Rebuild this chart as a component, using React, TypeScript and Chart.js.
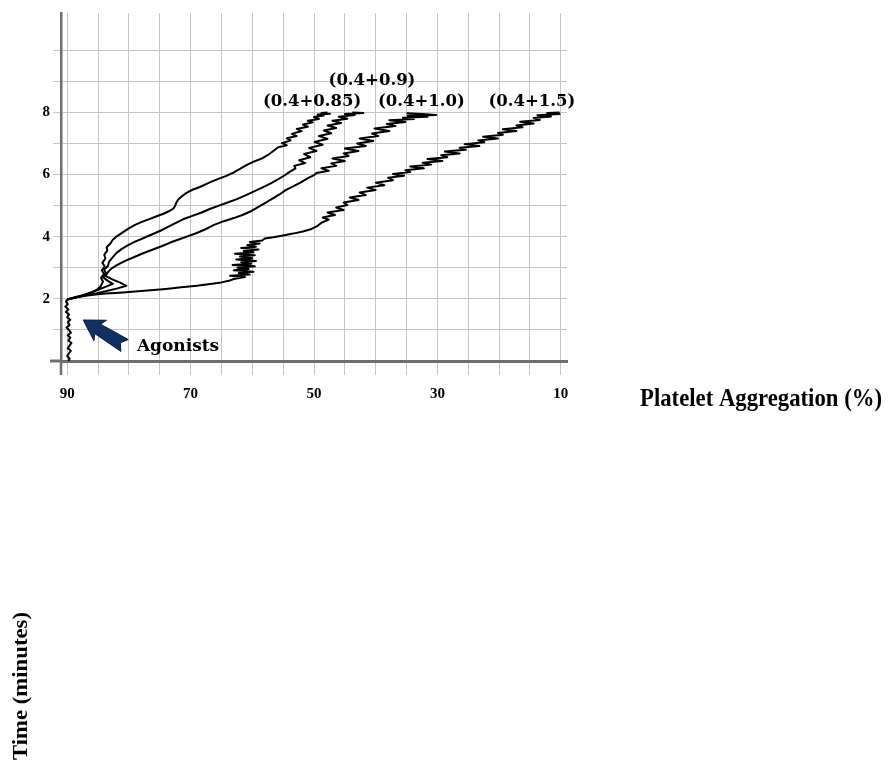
import React, { useEffect, useRef } from "react";
import { Chart, registerables } from "chart.js";

Chart.register(...registerables);

// [aggregation %, time (min)]
const baseline: [number, number][] = [
  [89.8, 0], [89.6, 0.08], [90.0, 0.16], [89.7, 0.25], [89.4, 0.33], [89.9, 0.41], [89.6, 0.5],
  [89.3, 0.58], [89.8, 0.66], [89.5, 0.75], [89.9, 0.83], [89.4, 0.91], [89.7, 1.0], [90.1, 1.08],
  [89.6, 1.16], [89.9, 1.25], [89.5, 1.33], [90.0, 1.41], [89.7, 1.5], [90.2, 1.58], [89.8, 1.66],
  [90.3, 1.75], [89.9, 1.83], [90.2, 1.91], [90.0, 1.98],
];

const trace085: [number, number][] = [
  [90.0, 1.98], [88.8, 2.04], [87.5, 2.1], [86.3, 2.18], [85.3, 2.28], [84.6, 2.4], [84.2, 2.55],
  [84.5, 2.68], [84.0, 2.8], [84.4, 2.92], [83.9, 3.04], [84.3, 3.16], [83.8, 3.3], [84.0, 3.42],
  [83.5, 3.55], [83.6, 3.66], [83.0, 3.78], [82.6, 3.9], [81.9, 4.02], [81.0, 4.14], [80.0, 4.27],
  [79.0, 4.38], [78.0, 4.47], [76.8, 4.56], [75.6, 4.65], [74.5, 4.73], [73.5, 4.82], [72.8, 4.9],
  [72.5, 5.0], [72.3, 5.1], [72.0, 5.2], [71.4, 5.3], [70.6, 5.42], [69.6, 5.52], [68.5, 5.6],
  [67.4, 5.7], [66.5, 5.78], [65.5, 5.86], [64.3, 5.95], [63.2, 6.05], [62.0, 6.18], [60.8, 6.32],
  [59.6, 6.43], [58.4, 6.52], [57.4, 6.64], [56.6, 6.76], [55.8, 6.88], [54.4, 6.94], [55.2, 7.01],
  [53.8, 7.1], [54.4, 7.17], [52.8, 7.24], [53.6, 7.31], [52.0, 7.4], [52.8, 7.47], [51.0, 7.54],
  [51.8, 7.61], [50.2, 7.68], [51.0, 7.73], [49.2, 7.79], [50.0, 7.85], [48.4, 7.9], [49.4, 7.93],
  [47.4, 7.96], [48.8, 7.98], [47.8, 8.0],
];

const trace09: [number, number][] = [
  [90.0, 1.98], [88.6, 2.06], [87.2, 2.13], [85.9, 2.22], [84.8, 2.31], [83.6, 2.4], [82.6, 2.48],
  [83.4, 2.58], [84.2, 2.7], [83.7, 2.82], [84.0, 2.94], [83.4, 3.06], [83.2, 3.2], [82.6, 3.34],
  [82.0, 3.48], [81.2, 3.6], [80.2, 3.72], [79.0, 3.84], [77.6, 3.96], [76.2, 4.08], [74.8, 4.2],
  [73.5, 4.33], [72.2, 4.46], [71.0, 4.58], [69.6, 4.68], [68.2, 4.78], [66.8, 4.9], [65.4, 5.0],
  [64.0, 5.1], [62.6, 5.2], [61.2, 5.32], [59.8, 5.45], [58.4, 5.58], [57.0, 5.72], [55.8, 5.85],
  [54.8, 5.97], [54.0, 6.08], [53.0, 6.2], [53.2, 6.28], [51.4, 6.37], [52.4, 6.46], [50.6, 6.56],
  [51.6, 6.66], [49.6, 6.76], [50.8, 6.86], [48.6, 6.96], [49.9, 7.05], [47.8, 7.15], [49.2, 7.24],
  [47.2, 7.33], [48.4, 7.42], [46.4, 7.5], [47.8, 7.58], [45.6, 7.66], [47.0, 7.73], [44.6, 7.8],
  [46.0, 7.86], [43.4, 7.92], [45.0, 7.95], [42.0, 7.98], [43.8, 8.0],
];

const trace10: [number, number][] = [
  [90.0, 1.98], [88.4, 2.05], [86.8, 2.12], [85.2, 2.18], [83.6, 2.25], [82.0, 2.33], [80.4, 2.42],
  [81.4, 2.52], [82.6, 2.62], [83.8, 2.74], [83.4, 2.86], [82.8, 2.98], [81.8, 3.1], [80.6, 3.22],
  [79.2, 3.34], [77.8, 3.46], [76.2, 3.58], [74.6, 3.7], [73.2, 3.82], [71.8, 3.92], [70.4, 4.02],
  [69.0, 4.12], [67.6, 4.24], [66.2, 4.38], [64.6, 4.5], [63.0, 4.6], [61.6, 4.7], [60.2, 4.82],
  [59.0, 4.96], [57.8, 5.1], [56.8, 5.22], [55.6, 5.36], [54.6, 5.5], [53.4, 5.62], [52.2, 5.74],
  [51.2, 5.86], [50.0, 5.98], [49.6, 6.05], [47.6, 6.12], [48.8, 6.2], [46.4, 6.28], [47.2, 6.36],
  [45.0, 6.44], [47.0, 6.52], [44.4, 6.6], [45.2, 6.68], [42.8, 6.76], [45.0, 6.84], [41.6, 6.92],
  [43.0, 7.0], [40.4, 7.08], [42.6, 7.16], [39.6, 7.24], [40.6, 7.32], [37.8, 7.4], [40.2, 7.48],
  [36.8, 7.56], [38.2, 7.63], [35.2, 7.69], [37.8, 7.75], [33.8, 7.79], [35.6, 7.83], [31.6, 7.86],
  [34.8, 7.89], [30.2, 7.92], [32.6, 7.95], [35.0, 7.97],
];

const trace15: [number, number][] = [
  [90.0, 1.98], [88.6, 2.05], [87.0, 2.1], [85.4, 2.14], [83.8, 2.17], [81.5, 2.2], [79.0, 2.24],
  [76.5, 2.28], [74.0, 2.32], [71.5, 2.37], [69.0, 2.42], [66.8, 2.48], [65.0, 2.53], [63.8, 2.58],
  [63.0, 2.64], [61.2, 2.7], [63.6, 2.74], [60.4, 2.78], [62.2, 2.83], [59.8, 2.87], [63.0, 2.92],
  [60.6, 2.96], [62.4, 3.0], [59.6, 3.05], [63.2, 3.09], [60.2, 3.13], [61.8, 3.18], [59.4, 3.22],
  [62.6, 3.27], [60.0, 3.31], [62.0, 3.36], [59.6, 3.4], [62.8, 3.45], [59.8, 3.5], [61.4, 3.54],
  [59.0, 3.59], [61.8, 3.64], [59.4, 3.68], [60.8, 3.73], [58.8, 3.78], [60.4, 3.83], [58.4, 3.88],
  [58.0, 3.94], [56.6, 3.98], [55.0, 4.04], [53.4, 4.1], [51.8, 4.17], [50.4, 4.25],
  [49.4, 4.35], [48.8, 4.45], [47.6, 4.55], [48.6, 4.62], [46.6, 4.7], [47.8, 4.78], [45.2, 4.86],
  [46.4, 4.94], [44.6, 5.02], [45.2, 5.1], [42.8, 5.18], [44.2, 5.26], [41.6, 5.34], [42.6, 5.42],
  [40.0, 5.5], [41.4, 5.58], [38.6, 5.66], [40.0, 5.74], [37.2, 5.82], [38.0, 5.9], [35.4, 5.96],
  [37.2, 6.02], [34.4, 6.08], [35.2, 6.14], [32.2, 6.2], [34.4, 6.26], [31.0, 6.32], [32.4, 6.38],
  [29.2, 6.44], [31.6, 6.5], [28.4, 6.56], [29.4, 6.62], [26.4, 6.68], [28.8, 6.74], [25.4, 6.8],
  [26.4, 6.86], [23.2, 6.92], [25.6, 6.98], [22.4, 7.04], [23.4, 7.1], [20.2, 7.16], [22.6, 7.22],
  [19.4, 7.28], [20.2, 7.34], [17.2, 7.4], [19.4, 7.46], [16.2, 7.52], [17.2, 7.58], [14.4, 7.64],
  [16.6, 7.7], [13.4, 7.76], [14.4, 7.82], [11.6, 7.87], [13.8, 7.91], [10.2, 7.95], [12.2, 7.98],
  [10.2, 8.0],
];

const traces = [baseline, trace085, trace09, trace10, trace15];

const traceLabels = ["(0.4+0.85)", "(0.4+0.9)", "(0.4+1.0)", "(0.4+1.5)"];
const labelAgg = [50.3, 40.6, 32.6, 14.7];
const labelTime = [8.33, 9.03, 8.33, 8.33];

const xGrid = [90, 85, 80, 75, 70, 65, 60, 55, 50, 45, 40, 35, 30, 25, 20, 15, 10];
const xLabelled = [90, 70, 50, 30, 10];
const yGrid = [0, 1, 2, 3, 4, 5, 6, 7, 8, 9, 10];
const yLabelled = [2, 4, 6, 8];

const xTitle = "Platelet Aggregation (%)";
const yTitle = "Time (minutes)";
const arrowText = "Agonists";
const arrowTip = [87.4, 1.32];
const arrowTail = [80.7, 0.5];
const arrowTextPos = [78.7, 0.47];

const annotations = {
  id: "annotations",
  afterDraw(chart: any) {
    const ctx = chart.ctx as CanvasRenderingContext2D;
    const xs = chart.scales.x;
    const ys = chart.scales.y;
    const ca = chart.chartArea;
    ctx.save();

    // axis line extensions
    ctx.strokeStyle = "#6e6e6e";
    ctx.lineWidth = 2.5;
    ctx.beginPath();
    ctx.moveTo(ca.left, ca.bottom);
    ctx.lineTo(ca.left, ca.bottom + 14);
    ctx.stroke();
    ctx.lineWidth = 3;
    ctx.beginPath();
    ctx.moveTo(ca.left - 11, ca.bottom);
    ctx.lineTo(ca.left, ca.bottom);
    ctx.stroke();

    // curve labels
    ctx.fillStyle = "#000";
    ctx.font = 'bold 16.5px "DejaVu Serif"';
    ctx.textAlign = "center";
    ctx.textBaseline = "middle";
    traceLabels.forEach((t, i) => {
      ctx.fillText(t, xs.getPixelForValue(labelAgg[i]), ys.getPixelForValue(labelTime[i]));
    });

    // arrow
    const tx = xs.getPixelForValue(arrowTip[0]);
    const ty = ys.getPixelForValue(arrowTip[1]);
    const ex = xs.getPixelForValue(arrowTail[0]);
    const ey = ys.getPixelForValue(arrowTail[1]);
    const len = Math.hypot(ex - tx, ey - ty);
    const dx = (ex - tx) / len;
    const dy = (ey - ty) / len;
    const nx = -dy;
    const ny = dx;
    const P = (along: number, side: number) => [tx + dx * along + nx * side, ty + dy * along + ny * side];
    const pts = [
      P(0, 0), P(20, 12), P(17, 5.5), P(len, 7), P(len - 5, 0), P(len, -7), P(17, -5.5), P(20, -12),
    ];
    ctx.beginPath();
    pts.forEach((p, i) => (i ? ctx.lineTo(p[0], p[1]) : ctx.moveTo(p[0], p[1])));
    ctx.closePath();
    ctx.fillStyle = "#0f3161";
    ctx.fill();
    ctx.strokeStyle = "#061833";
    ctx.lineWidth = 1;
    ctx.stroke();

    // arrow text
    ctx.fillStyle = "#000";
    ctx.font = 'bold 17px "DejaVu Serif"';
    ctx.textAlign = "left";
    ctx.textBaseline = "middle";
    ctx.fillText(arrowText, xs.getPixelForValue(arrowTextPos[0]), ys.getPixelForValue(arrowTextPos[1]));

    // axis titles
    ctx.textBaseline = "alphabetic";
    ctx.font = 'bold 26px "Liberation Serif"';
    const w1 = ctx.measureText(xTitle).width;
    ctx.save();
    ctx.translate(640, 406);
    ctx.scale(242 / w1, 1);
    ctx.fillText(xTitle, 0, 0);
    ctx.restore();

    ctx.font = 'bold 21px "Liberation Serif"';
    const w2 = ctx.measureText(yTitle).width;
    ctx.save();
    ctx.translate(27, 760);
    ctx.rotate(-Math.PI / 2);
    ctx.scale(148 / w2, 1);
    ctx.fillText(yTitle, 0, 0);
    ctx.restore();

    ctx.restore();
  },
};

export default function App() {
  const ref = useRef<HTMLCanvasElement | null>(null);

  useEffect(() => {
    if (!ref.current) return;
    const tickFont = { family: '"Liberation Serif", serif', size: 15, weight: "bold" as const };
    const chart = new Chart(ref.current, {
      type: "scatter",
      data: {
        datasets: traces.map((tr) => ({
          data: tr.map(([x, y]) => ({ x, y })),
          showLine: true,
          borderColor: "#000",
          borderWidth: 2,
          pointRadius: 0,
          tension: 0,
          borderJoinStyle: "round" as const,
        })),
      },
      options: {
        animation: false,
        responsive: false,
        devicePixelRatio: 1,
        layout: { padding: { left: 0, top: 13, right: 321, bottom: 364 } },
        plugins: { legend: { display: false }, tooltip: { enabled: false } },
        scales: {
          x: {
            type: "linear",
            reverse: true,
            min: 9,
            max: 91,
            afterBuildTicks: (s: any) => {
              s.ticks = xGrid.map((v) => ({ value: v }));
            },
            afterFit: (s: any) => {
              s.height = 40;
            },
            ticks: {
              autoSkip: false,
              maxRotation: 0,
              padding: 10,
              color: "#000",
              font: tickFont,
              callback: (v: any) => (xLabelled.includes(Number(v)) ? String(v) : ""),
            },
            grid: { color: "#c4c4c4", lineWidth: 1, tickLength: 14 },
            border: { color: "#6e6e6e", width: 3 },
          },
          y: {
            type: "linear",
            min: 0,
            max: 11.2,
            afterBuildTicks: (s: any) => {
              s.ticks = yGrid.map((v) => ({ value: v }));
            },
            afterFit: (s: any) => {
              s.width = 61;
            },
            ticks: {
              autoSkip: false,
              padding: 3,
              color: "#000",
              font: tickFont,
              callback: (v: any) => (yLabelled.includes(Number(v)) ? String(v) : ""),
            },
            grid: { color: "#c4c4c4", lineWidth: 1, tickLength: 8 },
            border: { color: "#6e6e6e", width: 2.5 },
          },
        },
      },
      plugins: [annotations],
    });
    return () => chart.destroy();
  }, []);

  return (
    <canvas
      ref={ref}
      width={888}
      height={765}
      style={{ position: "fixed", left: 0, top: 0, width: 888, height: 765, display: "block" }}
    />
  );
}
